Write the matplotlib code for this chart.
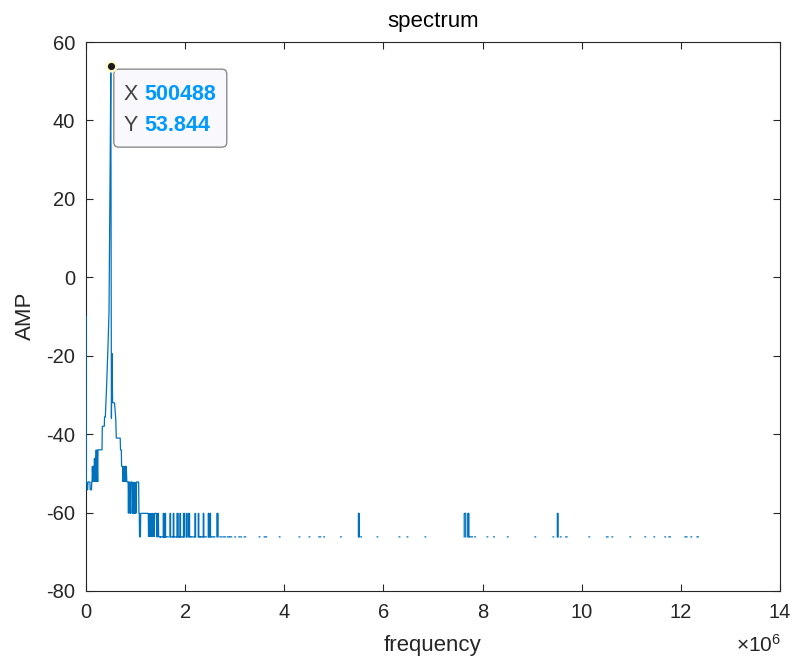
import numpy as np
import matplotlib
matplotlib.use("Agg")
import matplotlib.pyplot as plt
from matplotlib.patches import FancyBboxPatch
from matplotlib.transforms import Affine2D, ScaledTranslation
from matplotlib.ticker import FuncFormatter, MultipleLocator

plt.rcParams['font.family'] = ['Liberation Sans', 'DejaVu Sans']
plt.rcParams['mathtext.fontset'] = 'custom'
plt.rcParams['mathtext.rm'] = 'Liberation Sans'
plt.rcParams['mathtext.it'] = 'Liberation Sans'
plt.rcParams['axes.unicode_minus'] = False

# ---------------- data (frequency in MHz, amplitude in dB) ----------------
main_freq_mhz = [0.000, 0.006, 0.018, 0.024, 0.034, 0.040, 0.080, 0.085, 0.110, 0.116, 0.122,
                 0.128, 0.140, 0.146, 0.158, 0.164, 0.170, 0.182, 0.188, 0.200, 0.206, 0.218,
                 0.224, 0.236, 0.242, 0.323, 0.329, 0.369, 0.375, 0.390, 0.415, 0.440, 0.464,
                 0.476, 0.488, 0.5005, 0.5127, 0.525, 0.537, 0.575, 0.600, 0.611, 0.690, 0.696,
                 0.712, 0.718, 0.740, 0.746, 0.752, 0.764, 0.770, 0.782, 0.788, 0.800, 0.806,
                 0.812, 0.824, 0.850, 0.856, 0.862, 0.880, 0.886, 0.893, 0.899, 0.905, 0.911,
                 0.930, 0.936, 0.950, 0.956, 0.967, 0.973, 0.985, 0.991, 1.000, 1.006, 1.020,
                 1.026, 1.062, 1.068, 1.075, 1.080, 1.098, 1.103, 1.256, 1.262, 1.268, 1.280,
                 1.286, 1.298, 1.304, 1.316, 1.322, 1.334, 1.340, 1.352, 1.358, 1.376, 1.382,
                 1.420, 1.426, 1.440, 1.446, 1.460, 1.466, 1.500]
main_amp_db = [-10.0, -52.2, -52.2, -54.2, -54.2, -52.2, -52.2, -54.2, -54.2, -52.2, -52.2,
               -48.2, -52.2, -48.2, -48.2, -52.2, -46.2, -52.2, -46.2, -46.2, -44.0, -52.2,
               -44.0, -52.2, -44.0, -44.0, -38.0, -38.0, -35.6, -35.6, -28.0, -19.0, -9.0,
               10.0, 30.0, 53.844, -36.0, -19.4, -32.0, -32.0, -36.0, -41.0, -41.0, -44.0,
               -44.0, -48.2, -48.2, -52.2, -48.2, -52.2, -48.2, -52.2, -48.2, -48.2, -52.2,
               -48.2, -52.2, -52.2, -60.2, -52.2, -52.2, -60.2, -52.2, -60.2, -52.2, -52.2,
               -52.2, -60.2, -52.2, -60.2, -52.2, -60.2, -52.2, -60.2, -52.2, -60.2, -52.2,
               -52.2, -52.2, -60.2, -60.2, -66.2, -66.2, -60.2, -60.2, -66.2, -60.2, -66.2,
               -60.2, -66.2, -60.2, -66.2, -60.2, -66.2, -60.2, -66.2, -60.2, -66.2, -60.2,
               -60.2, -66.2, -66.2, -60.2, -60.2, -66.2, -66.2]

# isolated bins at -60 dB rising from the -66 dB floor
spike_start_mhz = [1.558, 1.593, 1.694, 1.760, 1.835, 1.895, 1.966, 2.026, 2.067, 2.198,
                   2.264, 2.365, 2.466, 2.500, 2.640, 5.495, 7.630, 7.700, 9.508]
spike_end_mhz = [1.570, 1.605, 1.706, 1.772, 1.860, 1.907, 1.990, 2.038, 2.090, 2.210,
                 2.276, 2.377, 2.478, 2.512, 2.665, 5.515, 7.660, 7.725, 9.525]
spike_level_db = -60.2
floor_level_db = -66.2

# short runs of adjacent finite bins at the floor level
floor_start_mhz = [1.500, 1.620, 1.730, 1.790, 1.870, 1.930, 2.100, 2.140, 2.290, 2.320,
                   2.400, 2.530, 2.580, 2.702, 2.768, 2.857, 2.903, 3.004, 3.085, 3.125,
                   3.192, 3.494, 3.595, 3.900, 4.300, 4.502, 4.698, 4.798, 5.135, 5.544,
                   5.873, 6.317, 6.478, 6.841, 7.742, 7.843, 8.091, 8.226, 8.502, 9.058,
                   9.421, 9.571, 9.677, 10.147, 10.498, 10.611, 10.974, 11.276, 11.458,
                   11.679, 11.760, 12.083, 12.204, 12.325]
floor_end_mhz = [1.600, 1.660, 1.750, 1.830, 1.890, 1.960, 2.120, 2.180, 2.310, 2.350,
                 2.430, 2.560, 2.600, 2.736, 2.817, 2.883, 2.938, 3.016, 3.097, 3.137,
                 3.220, 3.506, 3.643, 3.912, 4.312, 4.514, 4.732, 4.810, 5.147, 5.556,
                 5.885, 6.329, 6.490, 6.853, 7.796, 7.855, 8.103, 8.238, 8.514, 9.070,
                 9.433, 9.583, 9.704, 10.159, 10.530, 10.623, 10.986, 11.288, 11.470,
                 11.691, 11.788, 12.123, 12.216, 12.353]

peak_freq_hz = 500488
peak_amp_db = 53.844

x_ticks = [0, 2, 4, 6, 8, 10, 12, 14]
y_ticks = [-80, -60, -40, -20, 0, 20, 40, 60]

# ---------------- assemble line with NaN breaks ----------------
xs = [f * 1e6 for f in main_freq_mhz] + [np.nan]
ys = list(main_amp_db) + [np.nan]
for s, e in zip(spike_start_mhz, spike_end_mhz):
    xs += [s * 1e6, s * 1e6, e * 1e6, e * 1e6, np.nan]
    ys += [floor_level_db, spike_level_db, spike_level_db, floor_level_db, np.nan]
for s, e in zip(floor_start_mhz, floor_end_mhz):
    xs += [s * 1e6, e * 1e6, np.nan]
    ys += [floor_level_db, floor_level_db, np.nan]

# ---------------- figure ----------------
W, H = 794, 657
fig = plt.figure(figsize=(W / 100, H / 100), dpi=100)
fig.patch.set_facecolor('white')
ax = fig.add_axes([86 / W, 66 / H, 694 / W, 549 / H])

line_color = '#0072BD'
axis_color = '#262626'
ax.plot(xs, ys, color=line_color, lw=0.9, solid_joinstyle='miter', zorder=3)

ax.set_xlim(0, 14e6)
ax.set_ylim(-80, 60)
ax.set_xticks([t * 1e6 for t in x_ticks])
ax.xaxis.set_major_formatter(FuncFormatter(lambda v, p: f"{v / 1e6:g}"))
ax.set_yticks(y_ticks)

for sp in ax.spines.values():
    sp.set_color(axis_color)
    sp.set_linewidth(0.8)
ax.tick_params(direction='in', length=5, width=0.8, colors=axis_color,
               labelsize=14.5, top=True, right=True)
ax.tick_params(axis='x', pad=9)
ax.tick_params(axis='y', pad=8)

fig.text(433 / W, 1 - 22 / H, 'spectrum', ha='center', va='center', fontsize=16, color='black')
fig.text(433 / W, 1 - 645 / H, 'frequency', ha='center', va='center', fontsize=16, color=axis_color)
fig.text(25 / W, 1 - 316 / H, 'AMP', ha='center', va='center', rotation=90, fontsize=16,
         color=axis_color)
fig.text(781 / W, 1 - 652 / H, r'$\times\mathregular{10^{6}}$', ha='right', va='baseline',
         fontsize=15, color=axis_color)

# ---------------- data tip ----------------
anchor = ScaledTranslation(peak_freq_hz, peak_amp_db, ax.transData)
box = FancyBboxPatch((3, -81), 113, 78, boxstyle='round,pad=0,rounding_size=5',
                     transform=Affine2D() + anchor, facecolor='#f8f8fd',
                     edgecolor='#808080', lw=0.9, zorder=5, clip_on=False)
ax.add_patch(box)
ax.plot([peak_freq_hz], [peak_amp_db], 'o', ms=7, mfc='#1a1a1a', mec='#fffbd0', mew=1.8,
        zorder=6, clip_on=False)
tip_fs = 15.5
ax.annotate('X', (peak_freq_hz, peak_amp_db), xytext=(13, -28), textcoords='offset pixels',
            ha='left', va='center', fontsize=tip_fs, color='#404040', zorder=7)
ax.annotate(f'{peak_freq_hz}', (peak_freq_hz, peak_amp_db), xytext=(34, -28),
            textcoords='offset pixels', ha='left', va='center', fontsize=tip_fs,
            fontweight='bold', color='#0099FF', zorder=7)
ax.annotate('Y', (peak_freq_hz, peak_amp_db), xytext=(13, -59), textcoords='offset pixels',
            ha='left', va='center', fontsize=tip_fs, color='#404040', zorder=7)
ax.annotate(f'{peak_amp_db}', (peak_freq_hz, peak_amp_db), xytext=(34, -59),
            textcoords='offset pixels', ha='left', va='center', fontsize=tip_fs,
            fontweight='bold', color='#0099FF', zorder=7)

fig.savefig('out.png', dpi=100, facecolor='white')
